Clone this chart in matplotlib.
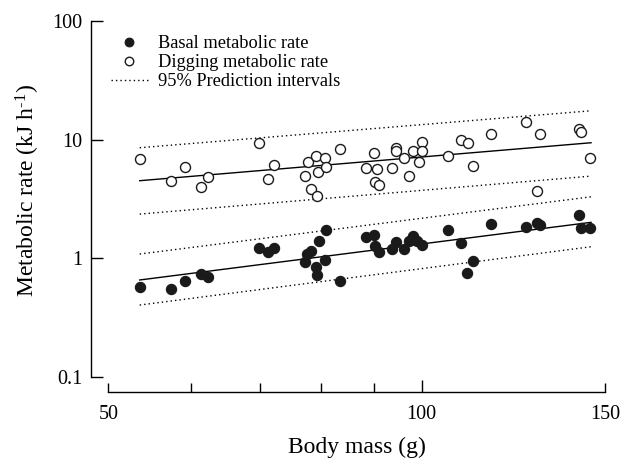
import numpy as np
import matplotlib
matplotlib.use("Agg")
import matplotlib.pyplot as plt

plt.rcParams['font.family'] = ['Liberation Serif', 'DejaVu Serif']
plt.rcParams['mathtext.fontset'] = 'custom'
plt.rcParams['mathtext.rm'] = 'Liberation Serif'
plt.rcParams['mathtext.it'] = 'Liberation Serif:italic'

# Digging metabolic rate (open circles): body mass (g), rate (kJ/h)
dig_mass = [53.6, 57.4, 59.3, 61.4, 62.4, 69.8, 71.2, 72.1, 77.2, 77.7, 78.3, 79.2,
            79.4, 79.6, 80.8, 80.9, 83.5, 88.4, 90.1, 90.6, 90.2, 91.0, 93.7, 94.4,
            94.5, 96.2, 97.3, 98.2, 99.4, 100.2, 100.2, 106.1, 109.1, 110.8, 112.1,
            116.6, 126.1, 129.2, 130.1, 141.8, 142.4, 145.2]
dig_rate = [6.93, 4.48, 5.84, 4.01, 4.81, 9.42, 4.66, 6.17, 4.91, 6.48, 3.82, 7.32,
            3.32, 5.33, 7.00, 5.88, 8.28, 5.74, 7.76, 5.71, 4.42, 4.15, 5.73, 8.45,
            8.02, 6.97, 4.94, 8.02, 6.51, 9.54, 7.97, 7.35, 9.92, 9.33, 6.03,
            11.26, 14.15, 3.71, 11.08, 12.24, 11.66, 6.97]

# Basal metabolic rate (filled circles)
bas_mass = [53.6, 57.4, 59.3, 61.4, 62.4, 69.8, 71.2, 72.1, 77.2, 77.6, 78.3, 79.1,
            79.4, 79.7, 80.8, 80.9, 83.4, 88.4, 90.1, 90.3, 91.1, 93.6, 94.5, 96.1,
            97.3, 98.2, 99.0, 100.2, 106.1, 109.1, 110.7, 112.1, 116.6, 126.0, 129.2,
            130.1, 141.7, 142.2, 145.2]
bas_rate = [0.569, 0.551, 0.644, 0.735, 0.700, 1.228, 1.123, 1.228, 0.936, 1.083, 1.163, 0.845,
            0.727, 1.407, 0.975, 1.718, 0.640, 1.520, 1.580, 1.282, 1.137, 1.191, 1.380, 1.191,
            1.407, 1.541, 1.399, 1.294, 1.731, 1.359, 0.756, 0.949, 1.945, 1.846, 2.003,
            1.908, 2.316, 1.810, 1.810]

# Regression lines and 95% prediction intervals (end points)
fit_mass = [53.6, 145.5]
dig_fit = [4.51, 9.42]
dig_upper = [8.55, 17.52]
dig_lower = [2.36, 4.93]
bas_fit = [0.657, 2.011]
bas_upper = [1.087, 3.30]
bas_lower = [0.404, 1.252]

x_major = [100]
x_minor = [50, 60, 70, 80, 90, 150]
x_minor_labels = ['50', '', '', '', '', '150']
y_ticks = [0.1, 1, 10, 100]
y_tick_labels = ['0.1', '1', '10', '100']

fig = plt.figure(figsize=(6.32, 4.61), dpi=100)
ax = fig.add_axes([108.3 / 632, 1 - 377 / 461, (604.8 - 108.3) / 632, (377 - 21) / 461])
ax.set_xscale('log')
ax.set_yscale('log')
ax.set_xlim(50, 150)
ax.set_ylim(0.1, 100)

dot = (0, (1, 2.2))
ax.plot(fit_mass, dig_upper, color='black', lw=1.0, ls=dot)
ax.plot(fit_mass, dig_lower, color='black', lw=1.0, ls=dot)
ax.plot(fit_mass, bas_upper, color='black', lw=1.0, ls=dot)
ax.plot(fit_mass, bas_lower, color='black', lw=1.0, ls=dot)
ax.plot(fit_mass, dig_fit, color='black', lw=1.0)
ax.plot(fit_mass, bas_fit, color='black', lw=1.0)

h1, = ax.plot(bas_mass, bas_rate, 'o', ms=7.4, mfc='#1a1a1a', mec='#1a1a1a', mew=0.8,
              label='Basal metabolic rate', zorder=3)
h2, = ax.plot(dig_mass, dig_rate, 'o', ms=7.2, mfc='white', mec='#1a1a1a', mew=1.0,
              label='Digging metabolic rate', zorder=3)
h3, = ax.plot([], [], color='black', lw=1.0, ls=dot, label='95% Prediction intervals')

leg = ax.legend(handles=[h1, h2, h3], loc='upper left', frameon=False, fontsize=13.2,
                bbox_to_anchor=(111 / 632, 1 - 35 / 461), bbox_transform=fig.transFigure,
                borderpad=0, borderaxespad=0, handlelength=2.0, handletextpad=0.55,
                labelspacing=0.12, markerscale=0.85)

for s in ['top', 'right']:
    ax.spines[s].set_visible(False)
ax.spines['left'].set_position(('outward', 12.3))
ax.spines['bottom'].set_position(('outward', 10.8))
ax.spines['left'].set_linewidth(1.0)
ax.spines['bottom'].set_linewidth(1.0)

ax.set_yticks(y_ticks)
ax.set_yticklabels(y_tick_labels)
ax.yaxis.set_minor_locator(matplotlib.ticker.NullLocator())
ax.tick_params(axis='y', which='major', direction='in', length=8.6, width=1.0,
               pad=6.5, labelsize=14.5)

ax.set_xticks(x_major)
ax.set_xticklabels(['100'])
ax.set_xticks(x_minor, minor=True)
ax.set_xticklabels(x_minor_labels, minor=True)
ax.tick_params(axis='x', which='major', direction='in', length=9.0, width=1.0,
               pad=9, labelsize=14.5)
ax.tick_params(axis='x', which='minor', direction='in', length=6.5, width=1.0,
               pad=9, labelsize=14.5)

ax.set_xlabel('Body mass (g)', fontsize=17, labelpad=9.5)
ax.set_ylabel(r'Metabolic rate (kJ h$^{\text{-1}}$)', fontsize=17)
ax.yaxis.set_label_coords(-0.162, 0.525)
ax.yaxis.label.set_horizontalalignment('center')
ax.yaxis.label.set_verticalalignment('center')

fig.savefig('out.png', dpi=100)
